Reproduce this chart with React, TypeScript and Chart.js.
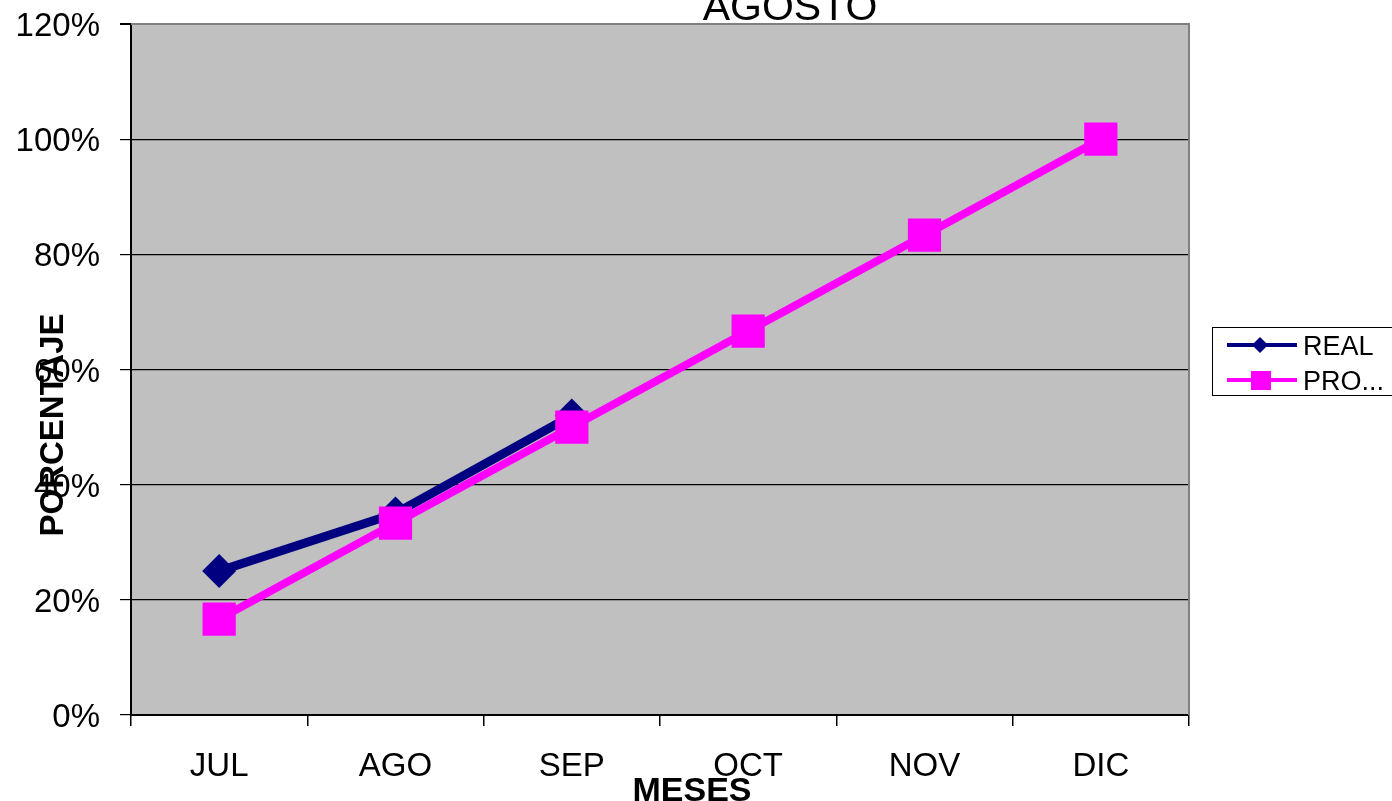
import React, { useEffect, useRef } from "react";
import { Chart, registerables } from "chart.js";

Chart.register(...registerables);

const categories = ["JUL", "AGO", "SEP", "OCT", "NOV", "DIC"];
const realValues: (number | null)[] = [25, 35, 52, null, null, null];
const proValues: number[] = [16.67, 33.33, 50, 66.67, 83.33, 100];
const yMin = 0;
const yMax = 120;
const yStep = 20;
const titleText = "AGOSTO";
const xTitle = "MESES";
const yTitle = "PORCENTAJE";
const legendLabels = ["REAL", "PRO..."];

const FONT = "'Liberation Sans', Arial, sans-serif";
const NAVY = "#000080";
const MAGENTA = "#FF00FF";

const decorPlugin = {
  id: "decor",
  beforeDraw(chart: any) {
    const { ctx, chartArea } = chart;
    ctx.save();
    ctx.fillStyle = "#C0C0C0";
    ctx.fillRect(chartArea.left, chartArea.top, chartArea.right - chartArea.left, chartArea.bottom - chartArea.top);
    ctx.restore();
  },
  beforeDatasetsDraw(chart: any) {
    const { ctx, chartArea } = chart;
    ctx.save();
    ctx.strokeStyle = "#808080";
    ctx.lineWidth = 2;
    ctx.beginPath();
    ctx.moveTo(chartArea.left, chartArea.top);
    ctx.lineTo(chartArea.right, chartArea.top);
    ctx.lineTo(chartArea.right, chartArea.bottom);
    ctx.stroke();
    ctx.restore();
  },
  afterDraw(chart: any) {
    const { ctx } = chart;
    ctx.save();
    ctx.fillStyle = "#000";
    ctx.font = `41px ${FONT}`;
    ctx.textAlign = "center";
    ctx.textBaseline = "alphabetic";
    ctx.fillText(titleText, 790, 20);
    ctx.font = `bold 34px ${FONT}`;
    ctx.fillText(xTitle, 692, 801);
    ctx.save();
    ctx.translate(63, 425);
    ctx.rotate(-Math.PI / 2);
    ctx.font = `bold 33px ${FONT}`;
    ctx.fillText(yTitle, 0, 0);
    ctx.restore();

    ctx.fillStyle = "#fff";
    ctx.fillRect(1212, 327, 200, 68);
    ctx.strokeStyle = "#000";
    ctx.lineWidth = 1;
    ctx.strokeRect(1212.5, 327.5, 200, 68);
    ctx.strokeStyle = NAVY;
    ctx.lineWidth = 4;
    ctx.beginPath();
    ctx.moveTo(1227, 345);
    ctx.lineTo(1297, 345);
    ctx.stroke();
    ctx.fillStyle = NAVY;
    ctx.beginPath();
    ctx.moveTo(1260, 337);
    ctx.lineTo(1268, 345);
    ctx.lineTo(1260, 353);
    ctx.lineTo(1252, 345);
    ctx.closePath();
    ctx.fill();
    ctx.strokeStyle = MAGENTA;
    ctx.beginPath();
    ctx.moveTo(1227, 380);
    ctx.lineTo(1297, 380);
    ctx.stroke();
    ctx.fillStyle = MAGENTA;
    ctx.fillRect(1251, 371, 20, 19);
    ctx.fillStyle = "#000";
    ctx.font = `27px ${FONT}`;
    ctx.textAlign = "left";
    ctx.fillText(legendLabels[0], 1303, 355);
    ctx.fillText(legendLabels[1], 1303, 390);
    ctx.restore();
  },
};

export default function App() {
  const ref = useRef<HTMLCanvasElement | null>(null);
  useEffect(() => {
    if (!ref.current) return;
    const chart = new Chart(ref.current, {
      type: "line",
      data: {
        labels: categories,
        datasets: [
          {
            label: legendLabels[0],
            data: realValues,
            borderColor: NAVY,
            backgroundColor: NAVY,
            borderWidth: 9,
            pointStyle: "rectRot",
            pointRadius: 17,
            pointBorderWidth: 0,
            pointBackgroundColor: NAVY,
            tension: 0,
            spanGaps: false,
            order: 1,
          },
          {
            label: legendLabels[1],
            data: proValues,
            borderColor: MAGENTA,
            backgroundColor: MAGENTA,
            borderWidth: 8,
            pointStyle: "rect",
            pointRadius: 23.5,
            pointBorderWidth: 0,
            pointBackgroundColor: MAGENTA,
            tension: 0,
            order: 0,
          },
        ],
      },
      options: {
        responsive: false,
        animation: false,
        devicePixelRatio: 1,
        layout: { padding: { left: 0, top: 24, right: 203, bottom: 0 } },
        plugins: {
          legend: { display: false },
          title: { display: false },
          tooltip: { enabled: false },
        },
        scales: {
          x: {
            offset: true,
            afterFit: (s: any) => {
              s.height = 86;
              s.paddingLeft = 0;
              s.paddingRight = 0;
            },
            grid: {
              offset: true,
              drawOnChartArea: false,
              drawTicks: true,
              tickLength: 11,
              color: "#000",
              lineWidth: 1.5,
            },
            border: { display: true, color: "#000", width: 2 },
            ticks: {
              color: "#000",
              font: { family: FONT, size: 33 },
              padding: 21,
              maxRotation: 0,
              autoSkip: false,
            },
          },
          y: {
            min: yMin,
            max: yMax,
            afterFit: (s: any) => {
              s.width = 131;
              s.paddingTop = 0;
              s.paddingBottom = 0;
            },
            grid: {
              color: (c: any) => (c.tick && c.tick.value === yMax ? "#808080" : "#000"),
              lineWidth: (c: any) => (c.tick && c.tick.value === yMax ? 2 : 1.2),
              tickColor: "#000",
              tickLength: 11,
              drawTicks: true,
            },
            border: { display: true, color: "#000", width: 2 },
            ticks: {
              stepSize: yStep,
              color: "#000",
              font: { family: FONT, size: 33 },
              padding: 20,
              labelOffset: 3,
              callback: (v: any) => `${v}%`,
            },
          },
        },
      },
      plugins: [decorPlugin],
    });
    return () => chart.destroy();
  }, []);
  return (
    <div style={{ position: "fixed", left: 0, top: 0, width: 1392, height: 801, background: "#fff" }}>
      <canvas ref={ref} width={1392} height={801} style={{ display: "block" }} />
    </div>
  );
}
